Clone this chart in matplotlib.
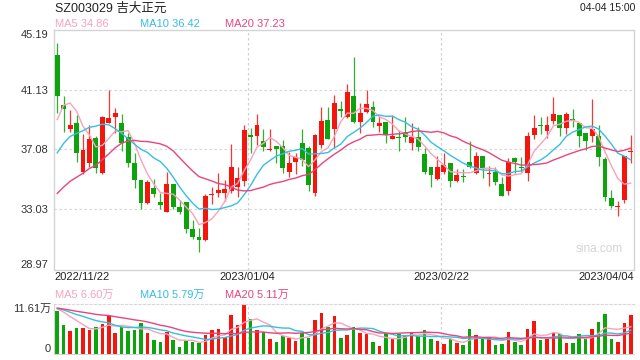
import matplotlib
matplotlib.use('Agg')
import matplotlib.pyplot as plt
import matplotlib.transforms as mtransforms
import numpy as np
import pandas as pd

plt.rcParams['font.family'] = ['Liberation Sans', 'Noto Sans CJK SC']

# Daily K-line data, 2022/11/22 - 2023/04/04 (90 trading days)
opens = [43.47, 40.09, 38.47, 38.85, 35.59, 36.19, 37.86, 35.47, 38.87, 39.30,
         38.87, 37.95, 36.17, 35.00, 33.45, 34.48, 33.53, 32.88, 34.75, 33.22,
         33.56, 31.71, 31.17, 30.97, 34.03, 34.14, 34.17, 34.30, 34.57, 34.98,
         38.06, 38.00, 37.66, 37.03, 37.32, 37.32, 35.59, 36.26, 37.50, 37.21,
         34.12, 37.39, 39.08, 38.45, 39.80, 39.26, 40.70, 38.96, 39.64, 39.93,
         38.69, 38.94, 37.79, 37.90, 38.29, 37.50, 37.91, 36.78, 35.92, 35.07,
         35.59, 36.15, 34.98, 35.31, 36.24, 35.52, 36.64, 35.45, 35.59, 34.75,
         34.30, 36.53, 35.92, 35.52, 38.06, 38.74, 38.36, 39.03, 39.41, 38.56,
         39.12, 38.85, 38.18, 38.00, 38.00, 36.44, 33.78, 33.17, 33.67, 36.91]
highs = [44.26, 40.72, 39.75, 39.41, 38.13, 38.74, 38.00, 39.35, 41.10, 39.87,
         39.51, 38.22, 36.82, 35.00, 35.02, 35.07, 34.12, 35.54, 34.75, 33.67,
         33.56, 32.32, 31.75, 34.08, 34.57, 35.52, 35.02, 37.45, 35.92, 38.74,
         38.51, 39.46, 38.47, 38.47, 37.32, 37.72, 36.94, 36.82, 38.47, 37.32,
         38.13, 39.98, 39.98, 40.77, 40.38, 41.51, 43.36, 40.25, 41.10, 40.36,
         39.35, 38.94, 39.41, 38.40, 39.26, 38.90, 38.58, 37.16, 35.92, 36.64,
         36.87, 36.15, 35.74, 35.74, 37.68, 36.94, 36.64, 35.97, 35.92, 35.25,
         36.49, 36.60, 36.55, 38.29, 39.41, 39.26, 39.35, 40.61, 39.41, 39.64,
         39.82, 38.85, 38.18, 40.50, 38.74, 36.60, 34.35, 33.63, 36.64, 38.06]
lows = [39.53, 38.29, 38.24, 36.26, 35.40, 35.92, 35.47, 35.43, 38.85, 38.22,
        37.00, 35.92, 34.48, 33.06, 33.40, 33.90, 33.06, 32.88, 33.06, 32.70,
        31.46, 31.01, 30.18, 30.92, 33.40, 33.90, 33.63, 34.12, 33.90, 34.62,
        36.87, 37.39, 37.00, 37.00, 36.19, 35.52, 35.25, 35.43, 35.97, 34.30,
        33.96, 37.16, 37.77, 37.16, 39.26, 39.19, 38.90, 38.18, 39.57, 38.63,
        38.29, 37.50, 37.77, 37.00, 37.61, 37.05, 37.00, 35.43, 34.57, 35.02,
        35.43, 34.57, 34.91, 34.91, 35.81, 35.43, 35.13, 34.62, 34.68, 33.96,
        34.01, 35.47, 35.59, 34.96, 37.77, 38.13, 37.84, 38.81, 38.00, 38.13,
        38.63, 37.23, 37.05, 37.61, 35.97, 33.63, 33.11, 32.61, 33.49, 36.19]
closes = [40.72, 39.84, 38.74, 36.87, 37.05, 37.79, 35.81, 39.28, 39.21, 39.55,
          37.55, 36.19, 35.04, 33.49, 34.89, 34.08, 33.35, 34.75, 33.22, 32.88,
          31.73, 31.19, 30.99, 33.96, 34.08, 34.35, 34.41, 35.92, 35.18, 38.40,
          37.95, 38.74, 37.23, 37.09, 37.14, 35.81, 36.15, 36.60, 36.37, 34.68,
          38.06, 39.01, 37.82, 40.20, 39.71, 40.95, 38.96, 39.53, 40.16, 38.96,
          38.85, 38.04, 38.00, 37.88, 37.91, 37.95, 37.23, 35.59, 35.36, 35.92,
          36.04, 34.98, 35.36, 35.25, 35.92, 36.64, 35.81, 35.50, 34.91, 33.96,
          36.26, 36.26, 35.81, 38.00, 38.51, 38.67, 38.74, 39.48, 38.56, 39.48,
          39.03, 38.00, 37.66, 38.47, 36.60, 33.90, 33.27, 33.27, 36.64, 36.96]
# volume in 万 shares
volumes = [10.29, 6.81, 5.42, 6.19, 6.19, 5.65, 6.42, 7.20, 8.90, 5.03,
           6.42, 5.42, 5.65, 7.35, 5.03, 3.33, 2.94, 5.26, 3.33, 1.78,
           3.17, 2.94, 2.71, 4.49, 5.65, 5.88, 4.10, 9.13, 6.81, 11.61,
           8.36, 5.65, 5.26, 3.56, 2.94, 4.33, 3.87, 3.17, 5.11, 3.87,
           7.97, 9.68, 6.42, 8.90, 3.72, 4.49, 6.42, 5.03, 4.88, 2.94,
           1.94, 5.11, 3.56, 4.88, 4.49, 5.11, 4.33, 5.65, 3.56, 3.17,
           2.40, 3.56, 2.71, 2.17, 5.88, 4.49, 3.87, 3.87, 2.17, 2.40,
           5.26, 2.94, 2.17, 5.88, 7.74, 3.33, 3.56, 5.03, 4.72, 2.71,
           2.71, 4.72, 3.56, 5.88, 7.59, 9.37, 3.56, 2.94, 7.35, 9.13]

# earlier sessions, only used to seed the moving averages
pre_close = [31.2, 31.0, 31.4, 31.6, 31.3, 31.5, 31.8, 31.4, 31.2, 31.3,
             33.4, 34.1, 34.8, 35.2, 35.5, 35.0, 38.0, 39.6, 42.2]
pre_vol = [11.2, 10.6, 11.5, 10.9, 10.2, 11.8, 10.4, 11.0, 10.7, 11.3,
           10.1, 10.9, 11.4, 10.6, 10.8, 11.1, 10.5, 10.9, 11.0]

date_labels = ['2022/11/22', '2023/01/04', '2023/02/22', '2023/04/04']
date_index = [0, 30, 60, 89]
price_ticks = [45.19, 41.13, 37.08, 33.03, 28.97]
ma_names = ['MA5', 'MA10', 'MA20']
ma_windows = [5, 10, 20]
price_ma_text = ['34.86', '36.42', '37.23']
vol_ma_text = ['6.60万', '5.79万', '5.11万']
vol_top_text = '11.61万'

RED = '#f4160c'
GREEN = '#0ca30c'
MA_COLORS = ['#f7a3bd', '#36bfe0', '#e8457c']

n = len(closes)
x = np.arange(n)
o = np.array(opens); c = np.array(closes)
up = c >= o
colors = [RED if u else GREEN for u in up]

close_s = pd.Series(pre_close + closes)
vol_s = pd.Series(pre_vol + volumes)
k = len(pre_close)

fig = plt.figure(figsize=(6.4, 3.6), dpi=100)
ax = fig.add_axes([54/640, 1-269.5/360, 580/640, 240/360])
axv = fig.add_axes([54/640, 1-354.3/360, 580/640, 50/360])

# price panel
ax.vlines(x, lows, highs, colors=colors, linewidth=0.9, alpha=0.85, zorder=2)
body_h = np.maximum(np.abs(c - o), 0.04)
ax.bar(x, body_h, bottom=np.minimum(o, c), width=0.76, color=colors, zorder=3)
for name, w, col in zip(ma_names, ma_windows, MA_COLORS):
    ma = close_s.rolling(w).mean().values[k:]
    ax.plot(x, ma, color=col, linewidth=1.0, zorder=4)

ax.set_xlim(-0.5, n - 0.5)
ax.set_ylim(price_ticks[-1], price_ticks[0])
ax.set_yticks(price_ticks)
ax.set_yticklabels([f'{t:.2f}' for t in price_ticks])
labs = ax.get_yticklabels()
labs[0].set_verticalalignment('top')
labs[-1].set_verticalalignment('bottom')
ax.tick_params(axis='y', length=0, pad=4, labelsize=8, labelcolor='#333333')
ax.set_xticks([])
for s in ax.spines.values():
    s.set_color('#d4d4d4')
    s.set_linewidth(1)
for t in price_ticks[1:-1]:
    ax.axhline(t, color='#d8d8d8', linestyle=(0, (2, 2)), linewidth=0.9, zorder=1)
for i in date_index[1:-1]:
    ax.axvline(i - 0.45, color='#d0d0d0', linestyle=(0, (2, 2)), linewidth=0.9, zorder=1)
    axv.axvline(i - 0.45, color='#d0d0d0', linestyle=(0, (2, 2)), linewidth=0.9, zorder=1)

ax.text(0.981, 0.085, 'sina.com', transform=ax.transAxes, ha='right', va='center',
        fontsize=8.5, color='#d4d4d4')

# date labels between panels
trans = mtransforms.blended_transform_factory(ax.transData, ax.transAxes)
aligns = ['left', 'center', 'center', 'right']
for lab, i, ha in zip(date_labels, date_index, aligns):
    xpos = -0.5 if ha == 'left' else (n - 0.5 if ha == 'right' else i - 0.45)
    ax.text(xpos, -0.031, lab, transform=trans, ha=ha, va='center', fontsize=8, color='#222222')

# volume panel
axv.bar(x, volumes, width=0.55, color=colors, zorder=2)
for w, col in zip(ma_windows, MA_COLORS):
    vma = vol_s.rolling(w).mean().values[k:]
    axv.plot(x, vma, color=col, linewidth=1.0, zorder=3)
axv.set_xlim(-0.5, n - 0.5)
axv.set_ylim(0, 11.75)
axv.set_xticks([]); axv.set_yticks([])
axv.spines['left'].set_color('#d4d4d4')
axv.spines['bottom'].set_color('#d4d4d4')
axv.spines['top'].set_color('#d8d8d8')
axv.spines['top'].set_linestyle((0, (2, 2)))
axv.spines['right'].set_visible(False)
axv.text(-0.005, 1.0, vol_top_text, transform=axv.transAxes, ha='right', va='top',
         fontsize=8, color='#333333')
axv.text(-0.005, 0.0, '0', transform=axv.transAxes, ha='right', va='bottom',
         fontsize=8, color='#333333')

# header texts
fig.text(55/640, 1-9/360, 'SZ003029 吉大正元', ha='left', va='center', fontsize=9, color='#222222')
fig.text(635/640, 1-8/360, '04-04 15:00', ha='right', va='center', fontsize=7.5, color='#222222')
ma_x = [55, 140, 225]
for name, val, vval, col, xx in zip(ma_names, price_ma_text, vol_ma_text, MA_COLORS, ma_x):
    fig.text(xx/640, 1-24/360, f'{name} {val}', ha='left', va='center', fontsize=8, color=col)
    fig.text(xx/640, 1-295/360, f'{name} {vval}', ha='left', va='center', fontsize=8, color=col)

fig.savefig('out.png', dpi=100)
